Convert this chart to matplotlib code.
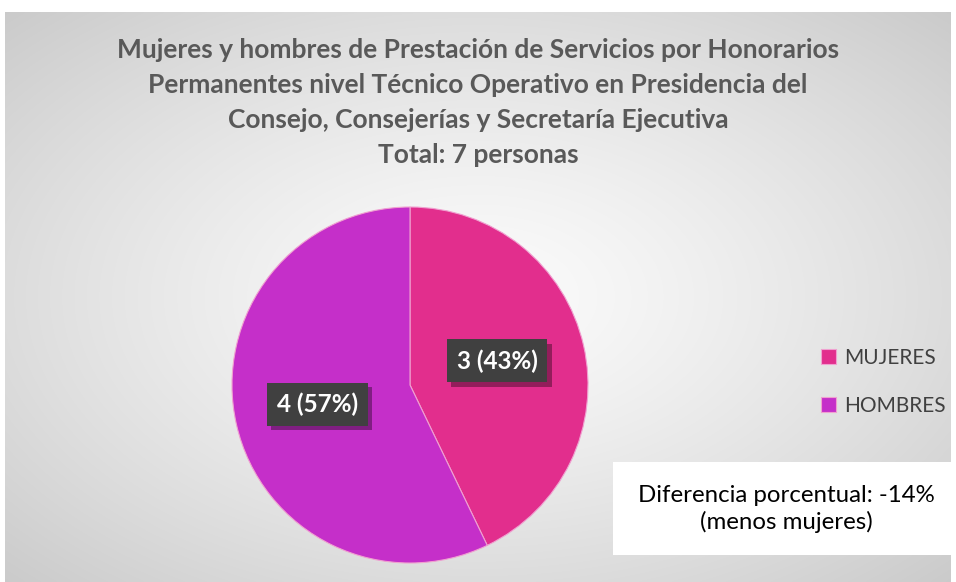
import numpy as np
import matplotlib.pyplot as plt
import matplotlib.patheffects as pe
from matplotlib.patches import Rectangle

# data
categories = ['MUJERES', 'HOMBRES']
values = [3, 4]
colors = ['#E22E8D', '#C52FC9']
title = ('Mujeres y hombres de Prestación de Servicios por Honorarios\n'
         'Permanentes nivel Técnico Operativo en Presidencia del\n'
         'Consejo, Consejerías y Secretaría Ejecutiva\n'
         'Total: 7 personas')
note = 'Diferencia porcentual: -14%\n(menos mujeres)'

plt.rcParams['font.family'] = ['Lato', 'DejaVu Sans']

W, H = 956, 582
fig = plt.figure(figsize=(W / 100, H / 100), dpi=100)
fig.patch.set_facecolor('white')

# radial gradient background
bg = fig.add_axes([5 / W, 0, 945 / W, 570 / H])
yy, xx = np.mgrid[-1:1:300j, -1:1:500j]
r = np.sqrt(xx ** 2 + yy ** 2) / np.sqrt(2)
shade = 0.985 - 0.19 * r ** 1.3
bg.imshow(np.dstack([shade] * 3), aspect='auto', extent=[0, 1, 0, 1], interpolation='bilinear')
bg.set_axis_off()

fig.text(0.5, 1 - 38 / H, title, ha='center', va='top', fontsize=19,
         fontweight='bold', color='#595959', linespacing=1.55)

# pie
ax = fig.add_axes([(410 - 178) / W, 1 - (385 + 178) / H, 356 / W, 356 / H])
total = sum(values)
wedges, _ = ax.pie(values, colors=colors, startangle=90, counterclock=False,
                   wedgeprops=dict(linewidth=0.8, edgecolor='#f0a0d0'))
ax.set_aspect('equal')
ax.set_xlim(-1, 1)
ax.set_ylim(-1, 1)

label_pos = [(0.49, 0.135), (-0.52, -0.107)]
for v, (lx, ly) in zip(values, label_pos):
    txt = '%d (%d%%)' % (v, round(100 * v / total))
    t = ax.text(lx, ly, txt, ha='center', va='center', fontsize=17.5,
                fontweight='bold', color='white',
                bbox=dict(boxstyle='square,pad=0.4', fc='#404040', ec='none'))
    t.get_bbox_patch().set_path_effects([
        pe.withSimplePatchShadow(offset=(3, -3), shadow_rgbFace='black', alpha=0.35)])

# legend
leg = fig.legend(wedges, categories, loc='center left',
                 bbox_to_anchor=(802 / W, 1 - 382 / H), frameon=False,
                 fontsize=15, handlelength=0.75, handleheight=0.75,
                 handletextpad=0.35, labelspacing=1.35)
for t in leg.get_texts():
    t.set_color('#404040')

# note box
fig.patches.append(Rectangle((613 / W, 1 - 555 / H), 343 / W, 93 / H,
                             transform=fig.transFigure, fc='white', ec='none'))
fig.text(786 / W, 1 - 509 / H, note, ha='center', va='center', fontsize=17.3,
         color='black', linespacing=1.25)

fig.savefig('out.png', dpi=100)
